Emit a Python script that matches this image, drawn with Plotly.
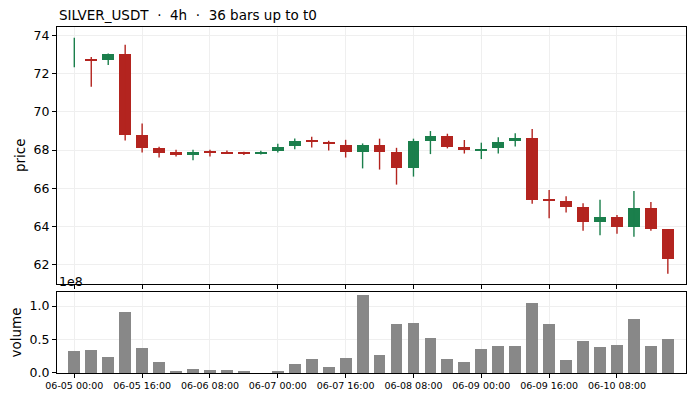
import numpy as np
import pandas as pd
import plotly.graph_objects as go
from plotly.subplots import make_subplots

# 4h bars
t_start = pd.Timestamp("2024-06-05 00:00")
n_bars = 36
times = pd.date_range(t_start, periods=n_bars, freq="4h")

opens = [72.95, 72.77, 72.72, 73.02, 68.81, 68.12, 67.88, 67.75, 67.91, 67.88,
         67.86, 67.83, 67.93, 68.19, 68.50, 68.44, 68.28, 67.91, 68.28, 67.91,
         67.04, 68.49, 68.75, 68.18, 67.98, 68.09, 68.46, 68.65, 65.42, 65.33,
         65.02, 64.23, 64.49, 63.98, 64.96, 63.86]
closes = [72.95, 72.72, 73.02, 68.81, 68.12, 67.86, 67.75, 67.91, 67.86, 67.83,
          67.80, 67.91, 68.18, 68.49, 68.44, 68.30, 67.91, 68.28, 67.91, 67.04,
          68.49, 68.75, 68.18, 67.98, 68.04, 68.44, 68.65, 65.40, 65.36, 65.04,
          64.23, 64.49, 63.98, 64.96, 63.86, 62.28]
highs = [73.89, 72.89, 73.07, 73.53, 69.39, 68.18, 68.02, 68.02, 68.02, 67.98,
         67.91, 67.96, 68.33, 68.61, 68.70, 68.49, 68.54, 68.35, 68.60, 68.12,
         68.60, 69.00, 68.86, 68.53, 68.39, 68.68, 68.89, 69.11, 65.91, 65.58,
         65.21, 65.39, 64.60, 65.86, 65.28, 63.86]
lows = [72.35, 71.32, 72.46, 68.51, 67.88, 67.61, 67.67, 67.47, 67.67, 67.79,
        67.74, 67.77, 67.88, 68.04, 68.14, 67.98, 67.61, 67.04, 66.98, 66.19,
        66.61, 67.79, 68.09, 67.82, 67.53, 67.82, 68.19, 65.19, 64.42, 64.72,
        63.77, 63.53, 63.61, 63.46, 63.77, 61.51]
volumes = [0.335, 0.35, 0.245, 0.905, 0.38, 0.17, 0.035, 0.065, 0.05, 0.05,
           0.02, 0.0, 0.035, 0.14, 0.215, 0.095, 0.23, 1.16, 0.275, 0.725,
           0.74, 0.53, 0.215, 0.17, 0.365, 0.41, 0.41, 1.04, 0.725, 0.20,
           0.485, 0.395, 0.425, 0.80, 0.41, 0.515]  # x 1e8

title = "SILVER_USDT  ·  4h  ·  36 bars up to t0"
tick_times = times[::4]
tick_text = [t.strftime("%m-%d %H:%M") for t in tick_times]

UP = "#1b7f4c"
DOWN = "#b3241f"
VOL = "#888888"
GRID = "#efefef"

o = np.array(opens)
c = np.array(closes)
h = np.array(highs)
l = np.array(lows)
up = c >= o
colors = np.where(up, UP, DOWN)
step_ms = 4 * 3600 * 1000
width_ms = 0.7 * step_ms

fig = make_subplots(rows=2, cols=1, shared_xaxes=True, vertical_spacing=0.023,
                    row_heights=[0.743, 0.234])

# wicks, one trace per colour
for mask, col in [(up, UP), (~up, DOWN)]:
    wx, wy = [], []
    for t, lo, hi in zip(times[mask], l[mask], h[mask]):
        wx += [t, t, None]
        wy += [lo, hi, None]
    fig.add_trace(go.Scatter(x=wx, y=wy, mode="lines", line=dict(color=col, width=1.4),
                             hoverinfo="skip", showlegend=False), row=1, col=1)

# bodies
fig.add_trace(go.Bar(x=times, y=np.abs(c - o), base=np.minimum(o, c), width=width_ms,
                     marker=dict(color=colors, line=dict(width=0)),
                     showlegend=False), row=1, col=1)

# volume
fig.add_trace(go.Bar(x=times, y=np.array(volumes) * 1e8, width=width_ms,
                     marker=dict(color=VOL, line=dict(width=0)), showlegend=False),
              row=2, col=1)

x_lo = t_start - pd.Timedelta(hours=4 * 1.02)
x_hi = t_start + pd.Timedelta(hours=4 * 36.07)

axis_style = dict(showline=True, linecolor="black", linewidth=1, mirror=True,
                  showgrid=True, gridcolor=GRID, gridwidth=0.8, zeroline=False,
                  ticks="outside", ticklen=4, tickcolor="black", automargin=False)

fig.update_xaxes(**axis_style, range=[x_lo, x_hi], tickvals=tick_times, ticktext=tick_text,
                 tickfont=dict(size=9.5))
fig.update_xaxes(showticklabels=False, row=1, col=1)
fig.update_yaxes(**axis_style, tickfont=dict(size=12.5))
fig.update_yaxes(range=[60.97, 74.46], tickvals=[62, 64, 66, 68, 70, 72, 74], row=1, col=1)
fig.update_yaxes(range=[0, 1.21e8], tickvals=[0, 0.5e8, 1.0e8],
                 ticktext=["0.0", "0.5", "1.0"], row=2, col=1)

fig.update_layout(
    width=693, height=400,
    margin=dict(l=57, r=7, t=27, b=27),
    paper_bgcolor="white", plot_bgcolor="white",
    font=dict(family="DejaVu Sans", color="black"),
    bargap=0, showlegend=False,
    annotations=[
        dict(text=title, x=0, y=1 + 12 / 346, xref="paper", yref="paper",
             xanchor="left", yanchor="middle", showarrow=False, font=dict(size=13.5)),
        dict(text="price", x=-37 / 629, y=0.63, xref="paper", yref="paper",
             xanchor="center", yanchor="middle",
             textangle=-90, showarrow=False, font=dict(size=13.5)),
        dict(text="volume", x=-41 / 629, y=0.117, xref="paper", yref="paper",
             xanchor="center", yanchor="middle",
             textangle=-90, showarrow=False, font=dict(size=13.5)),
        dict(text="1e8", x=0, y=0.236, xref="paper", yref="paper",
             xanchor="left", yanchor="bottom", showarrow=False, font=dict(size=12.5)),
    ],
)

# the page's default body margin would shift the figure by 8px
fig.write_html("out.html", config={"displayModeBar": False},
               post_script="document.body.style.margin='0';")
